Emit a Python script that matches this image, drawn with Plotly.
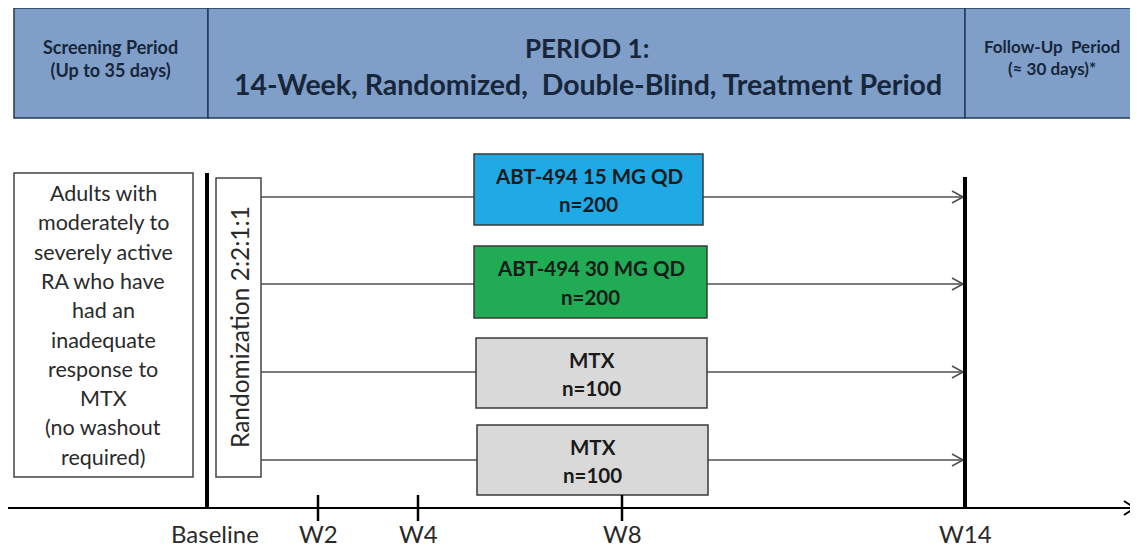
import plotly.graph_objects as go

# ---- data ----
periods = ["Screening Period<br>(Up to 35 days)",
           "PERIOD 1:",
           "14-Week, Randomized,  Double-Blind, Treatment Period",
           "Follow-Up  Period<br>(≈ 30 days)*"]
population = ["Adults with", "moderately to", "severely active", "RA who have",
              "had an", "inadequate", "response to", "MTX", "(no washout", "required)"]
randomization = "Randomization 2:2:1:1"
arm_names = ["ABT-494 15 MG QD", "ABT-494 30 MG QD", "MTX", "MTX"]
arm_n = [200, 200, 100, 100]
timepoints = ["Baseline", "W2", "W4", "W8", "W14"]

# ---- layout geometry (window pixel space) ----
W, H = 1138, 550
OFF = 8  # page body margin
FONT = "Lato"
hdr_top, hdr_bot = 8, 118
hdr_x = [14, 208, 965, 1142]
hdr_fill = "#7F9FC8"
hdr_line = "#243B57"
hdr_text = "#17263A"

arm_y = [197, 284, 372, 460]
arm_box = [(474, 703, 154, 225), (474, 707, 246, 318), (476, 707, 338, 408), (477, 708, 425, 495)]
arm_fill = ["#1FAAE6", "#21AB55", "#D9D9D9", "#D9D9D9"]
tp_x = [207, 318, 418, 622, 965]
axis_y = 508

fig = go.Figure()
shapes = []
ann = []

# header band
for i in range(3):
    shapes.append(dict(type="rect", x0=hdr_x[i], x1=hdr_x[i + 1], y0=hdr_top, y1=hdr_bot,
                       fillcolor=hdr_fill, line=dict(color=hdr_line, width=1.5), layer="below"))
ann.append(dict(x=110, y=58, text="<b>" + periods[0] + "</b>",
                font=dict(size=18, color=hdr_text, family=FONT)))
ann.append(dict(x=587, y=48, text="<b>" + periods[1] + "</b>",
                font=dict(size=26, color=hdr_text, family=FONT)))
ann.append(dict(x=588, y=84, text="<b>" + periods[2] + "</b>",
                font=dict(size=28.5, color=hdr_text, family=FONT)))
ann.append(dict(x=1052, y=57, text="<b>" + periods[3] + "</b>",
                font=dict(size=17, color=hdr_text, family=FONT)))

# population box
shapes.append(dict(type="rect", x0=14, x1=193, y0=173, y1=477,
                   line=dict(color="#444444", width=1.5), fillcolor="white"))
line_y0, line_dy = 193, 29.3
for k, t in enumerate(population):
    ann.append(dict(x=103, y=line_y0 + k * line_dy, text=t,
                    font=dict(size=21.5, color="#2A2A2A", family=FONT)))

# randomization box
shapes.append(dict(type="rect", x0=216, x1=261, y0=178, y1=477,
                   line=dict(color="#444444", width=1.5), fillcolor="white"))
ann.append(dict(x=239, y=327, text=randomization, textangle=-90,
                font=dict(size=24.5, color="#2A2A2A", family=FONT)))

# arm lines with open arrowheads
for y in arm_y:
    fig.add_trace(go.Scatter(x=[261, 963], y=[y, y], mode="lines",
                             line=dict(color="#505050", width=1.5), hoverinfo="skip"))
    fig.add_trace(go.Scatter(x=[952, 963, 952], y=[y - 6, y, y + 6], mode="lines",
                             line=dict(color="#505050", width=1.5), hoverinfo="skip"))

# arm boxes
for (x0, x1, y0, y1), fc, name, n in zip(arm_box, arm_fill, arm_names, arm_n):
    shapes.append(dict(type="rect", x0=x0, x1=x1, y0=y0, y1=y1, fillcolor=fc,
                       line=dict(color="#3A3A3A", width=1.5)))
    cx = (x0 + x1) / 2
    ann.append(dict(x=cx, y=y0 + 0.31 * (y1 - y0), text="<b>" + name + "</b>",
                    font=dict(size=20.5, color="#1A1A1A", family=FONT)))
    ann.append(dict(x=cx, y=y0 + 0.71 * (y1 - y0), text="<b>n=%d</b>" % n,
                    font=dict(size=20.5, color="#1A1A1A", family=FONT)))

# baseline and W14 thick verticals
shapes.append(dict(type="line", x0=tp_x[0], x1=tp_x[0], y0=173, y1=axis_y,
                   line=dict(color="black", width=4)))
shapes.append(dict(type="line", x0=tp_x[-1], x1=tp_x[-1], y0=177, y1=axis_y,
                   line=dict(color="black", width=4)))

# timeline axis
fig.add_trace(go.Scatter(x=[4, 1134], y=[axis_y, axis_y], mode="lines",
                         line=dict(color="black", width=2), hoverinfo="skip"))
fig.add_trace(go.Scatter(x=[1124, 1135, 1124], y=[axis_y - 7, axis_y, axis_y + 7], mode="lines",
                         line=dict(color="black", width=2), hoverinfo="skip"))
for x in tp_x[1:4]:
    shapes.append(dict(type="line", x0=x, x1=x, y0=495, y1=521,
                       line=dict(color="black", width=2.5)))
for x, t in zip(tp_x, timepoints):
    ann.append(dict(x=x + (8 if t == "Baseline" else 0), y=533, text=t,
                    font=dict(size=24, color="#2A2A2A", family=FONT)))

for a in ann:
    a.update(xref="x", yref="y", showarrow=False, xanchor="center", yanchor="middle")

fig.update_layout(
    width=W - OFF, height=H - OFF, margin=dict(l=0, r=0, t=0, b=0),
    paper_bgcolor="white", plot_bgcolor="white", showlegend=False,
    xaxis=dict(range=[OFF, W], visible=False, fixedrange=True),
    yaxis=dict(range=[H, OFF], visible=False, fixedrange=True),
    shapes=shapes, annotations=ann,
)
fig.write_html("out.html")
